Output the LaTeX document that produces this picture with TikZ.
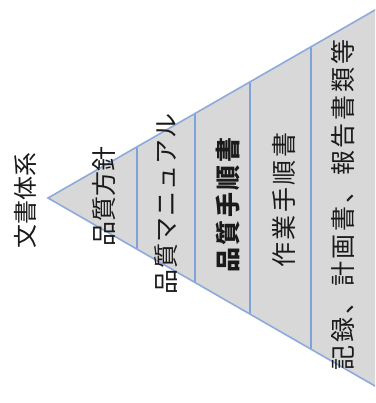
\documentclass[tikz,border=0pt]{standalone}
\usepackage{fontspec}
\usetikzlibrary{calc}
\newfontfamily\jp{Noto Sans CJK JP}
\definecolor{tri}{HTML}{D8D8D8}
\definecolor{edge}{HTML}{8EAADB}
\definecolor{divline}{HTML}{7FA2D8}
\definecolor{ink}{HTML}{1A1A1A}
\tikzset{
  lbl/.style={rotate=90, inner sep=0pt, text=ink, font=\jp\fontsize{25}{25}\selectfont},
  edgeline/.style={draw=edge, line width=1.6pt},
  divider/.style={draw=divline, line width=1.1pt}
}
\newcommand{\ls}[1]{\addfontfeatures{LetterSpace=#1}}
\begin{document}
\begin{tikzpicture}[x=1pt,y=-1pt]
\useasboundingbox (0,0) rectangle (375,403);
\fill[white] (0,0) rectangle (375,403);
\clip (0,0) rectangle (375,403);
\coordinate (A) at (48,198);
\coordinate (T) at (375,10);
\coordinate (B) at (375,386);
\coordinate (TT) at ($(A)!1.1!(T)$);
\coordinate (BB) at ($(A)!1.1!(B)$);
\fill[tri] (A) -- (TT) -- (BB) -- cycle;
\foreach \t in {0.2722,0.4495,0.6177,0.8043}{
  \draw[divider] ($(A)!\t!(T)$) -- ($(A)!\t!(B)$);
}
\draw[edgeline] (TT) -- (A) -- (BB);
\node[lbl, font=\jp\fontsize{24}{24}\selectfont] (t0) at (25,200) {文書体系};
\node[lbl] (t1) at (104,196) {品質方針};
\node[lbl] (t2) at (166,204) {\ls{4}品質マニュアル};
\node[lbl] (t3) at (228,205) {\bfseries\ls{10}品質手順書};
\node[lbl] (t4) at (284,200) {\ls{10}作業手順書};
\node[lbl] (t5) at (343,205) {\ls{11}記録、計画書、報告書類等};
\end{tikzpicture}
\end{document}
